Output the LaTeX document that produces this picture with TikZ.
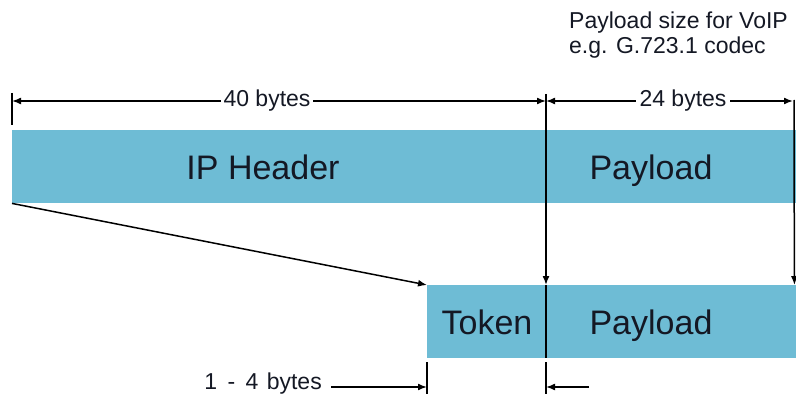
\documentclass[tikz,border=0pt]{standalone}
\usepackage{fontspec}
\setmainfont{Liberation Sans}
\usetikzlibrary{arrows.meta}
\definecolor{barblue}{RGB}{110,188,213}
\definecolor{txt}{RGB}{20,24,36}
\tikzset{
  bar/.style={fill=barblue, draw=none, inner sep=0pt, anchor=north west},
  big/.style={font=\fontsize{34}{38}\selectfont, text=txt, inner sep=0pt, anchor=base},
  small/.style={font=\fontsize{23}{26}\selectfont, text=txt, inner sep=0pt},
  dim/.style={line width=1.5pt, -{Latex[length=9pt,width=7pt]}},
  dimboth/.style={line width=1.5pt, {Latex[length=9pt,width=7pt]}-{Latex[length=9pt,width=7pt]}},
  tick/.style={line width=1.5pt}
}
\begin{document}
\begin{tikzpicture}[x=1pt,y=-1pt]
\useasboundingbox (0,0) rectangle (796,396);
% bars
\node[bar, minimum width=534pt, minimum height=73pt] (ip) at (12,130) {};
\node[bar, minimum width=250pt, minimum height=73pt] (pay1) at (546,130) {};
\node[bar, minimum width=119pt, minimum height=73pt] (tok) at (427,285) {};
\node[bar, minimum width=250pt, minimum height=73pt] (pay2) at (546,285) {};
% bar texts
\node[big] (tip) at (263,179) {IP Header};
\node[big] (tpay1) at (651,179) {Payload};
\node[big] (ttok) at (487,334) {Token};
\node[big] (tpay2) at (651,334) {Payload};
% top note
\node[small, anchor=base west] (note) at (569,29) {Payload size for VoIP};
\node[small, anchor=base west] (note2) at (569,54) {e.g. G.723.1 codec};
% top dimension
\coordinate (tl) at (12,93);
\coordinate (tlb) at (12,125);
\coordinate (d1) at (12,101);
\coordinate (d2) at (546,101);
\coordinate (d3) at (793,101);
\coordinate (vtop) at (546,94);
\coordinate (rtop) at (794,100);
\draw[tick] (tl) -- (tlb);
\draw[dimboth] (d1) -- (d2);
\draw[dimboth] (d2) -- (d3);
\node[small, fill=white, inner xsep=3pt, inner ysep=1pt] (l40) at (267,101) {40 bytes};
\node[small, fill=white, inner xsep=4pt, inner ysep=1pt] (l24) at (683,101) {24 bytes};
% vertical arrows
\draw[dim] (vtop) -- (pay2.north west);
\draw[dim] (rtop) -- ([xshift=-2pt]pay2.north east);
% divider
\draw[tick] (pay2.north west) -- (pay2.south west);
% diagonal
\draw[dim] (ip.south west) -- (tok.north west);
% bottom dimension
\coordinate (b1t) at (427,362);
\coordinate (b1b) at (427,394);
\coordinate (b2t) at (546,362);
\coordinate (b2b) at (546,394);
\coordinate (a1s) at (331,387);
\coordinate (a1e) at (427,387);
\coordinate (a2s) at (589,387);
\coordinate (a2e) at (546,387);
\draw[tick] (b1t) -- (b1b);
\draw[tick] (b2t) -- (b2b);
\draw[dim] (a1s) -- (a1e);
\draw[dim] (a2s) -- (a2e);
\node[small, anchor=base east] (l14) at (322,389) {1\hspace{4pt} -\hspace{4pt} 4\hspace{2pt} bytes};
\end{tikzpicture}
\end{document}
